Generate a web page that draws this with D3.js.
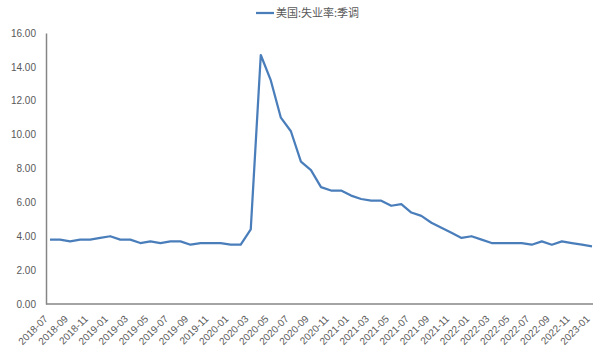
<!DOCTYPE html>
<html><head><meta charset="utf-8">
<script src="https://cdn.jsdelivr.net/npm/d3@7"></script>
<style>body{margin:0;background:#fff;}svg{display:block;font-family:"Microsoft YaHei","Noto Sans CJK SC","Liberation Sans",sans-serif;}</style>
</head><body>
<svg id="c" width="593" height="352"></svg>
<script>
const months = ["2018-07","2018-08","2018-09","2018-10","2018-11","2018-12",
"2019-01","2019-02","2019-03","2019-04","2019-05","2019-06","2019-07","2019-08","2019-09","2019-10","2019-11","2019-12",
"2020-01","2020-02","2020-03","2020-04","2020-05","2020-06","2020-07","2020-08","2020-09","2020-10","2020-11","2020-12",
"2021-01","2021-02","2021-03","2021-04","2021-05","2021-06","2021-07","2021-08","2021-09","2021-10","2021-11","2021-12",
"2022-01","2022-02","2022-03","2022-04","2022-05","2022-06","2022-07","2022-08","2022-09","2022-10","2022-11","2022-12",
"2023-01"];
const rate = [3.8,3.8,3.7,3.8,3.8,3.9,
4.0,3.8,3.8,3.6,3.7,3.6,3.7,3.7,3.5,3.6,3.6,3.6,
3.5,3.5,4.4,14.7,13.2,11.0,10.2,8.4,7.9,6.9,6.7,6.7,
6.4,6.2,6.1,6.1,5.8,5.9,5.4,5.2,4.8,4.5,4.2,3.9,
4.0,3.8,3.6,3.6,3.6,3.6,3.5,3.7,3.5,3.7,3.6,3.5,
3.4];
const yTicks = [0,2,4,6,8,10,12,14,16];
const seriesName = "美国:失业率:季调";

const svg = d3.select("#c");
const W = 593, H = 352;
const axisX = 46, plotTop = 33, plotBottom = 304;
const x = d3.scaleBand().domain(months).range([45, 597]);
const y = d3.scaleLinear().domain([0,16]).range([plotBottom, plotTop]);

// y axis
const ya = svg.append("g").attr("transform",`translate(${axisX},0)`)
  .call(d3.axisLeft(y).tickValues(yTicks).tickSize(0).tickPadding(10).tickFormat(d3.format(".2f")));
ya.select(".domain").attr("stroke","#868686").attr("stroke-width",1.5);
ya.selectAll("text").attr("fill","#595959").style("font-size","10px");

// x axis
const xa = svg.append("g").attr("transform",`translate(0,${plotBottom})`)
  .call(d3.axisBottom(x).tickValues(months.filter((d,i)=>i%2===0)).tickSize(0));
xa.select(".domain").attr("stroke","#868686").attr("stroke-width",1.5).attr("d",`M${axisX},0H${W}`);
xa.selectAll("text").attr("fill","#595959").style("font-size","10px")
  .attr("text-anchor","end").attr("y",0).attr("dy","0.35em")
  .attr("transform","translate(-4,13) rotate(-45)");

// line
const line = d3.line().x((d,i)=>x(months[i]) + x.bandwidth()/2).y(d=>y(d));
svg.append("path").datum(rate).attr("d",line).attr("fill","none")
  .attr("stroke","#4a7ebb").attr("stroke-width",2.25).attr("stroke-linejoin","round");

// legend
const lg = svg.append("g").attr("transform","translate(256,13)");
lg.append("line").attr("x1",0).attr("x2",18).attr("stroke","#4a7ebb").attr("stroke-width",2.25);
lg.append("text").attr("x",20).attr("y",4).attr("fill","#595959").style("font-size","11px").text(seriesName);
</script>
</body></html>
